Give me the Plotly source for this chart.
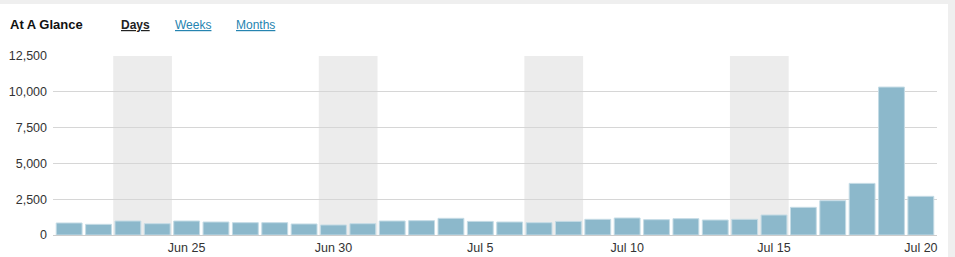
import plotly.graph_objects as go
import datetime as dt

# ---- data ----
dates = [(dt.date(2012, 6, 21) + dt.timedelta(days=i)) for i in range(30)]
day_labels = [d.strftime("%b %-d") for d in dates]
views = [840, 745, 977, 790, 977, 907, 860, 860, 770, 700,
         790, 977, 1000, 1165, 950, 907, 860, 950, 1095, 1187,
         1070, 1140, 1047, 1095, 1396, 1933, 2395, 3605, 10330, 2700]
weekend_starts = ["Jun 23", "Jun 30", "Jul 7", "Jul 14"]
tick_labels = ["Jun 25", "Jun 30", "Jul 5", "Jul 10", "Jul 15", "Jul 20"]
y_ticks = [0, 2500, 5000, 7500, 10000, 12500]

idx = list(range(len(views)))
FONT = "Liberation Sans, Arial, Helvetica, sans-serif"

fig = go.Figure()
fig.add_trace(go.Bar(
    x=idx, y=views,
    marker=dict(color="#8cb8cb", line=dict(color="#c4dbe5", width=1)),
    hoverinfo="y",
))

shapes = []
# outer white panel
shapes.append(dict(type="rect", xref="paper", yref="paper",
                   x0=-0.06, x1=1.0124, y0=-0.13, y1=1.2905,
                   fillcolor="white", line=dict(width=0), layer="below"))
for w in weekend_starts:
    i = day_labels.index(w)
    shapes.append(dict(type="rect", xref="x", yref="paper",
                       x0=i - 0.5, x1=i + 1.5, y0=0, y1=1,
                       fillcolor="#ececec", line=dict(width=0), layer="below"))

tick_vals = [day_labels.index(t) for t in tick_labels]

TY = 1.175
fig.update_layout(
    width=955, height=257,
    margin=dict(l=53, r=18, t=56, b=22),
    paper_bgcolor="#efefef",
    plot_bgcolor="rgba(0,0,0,0)",
    bargap=0.12,
    showlegend=False,
    shapes=shapes,
    font=dict(family=FONT, size=12, color="#333"),
    xaxis=dict(range=[-0.55, len(views) - 0.45], tickvals=tick_vals, ticktext=tick_labels,
               showgrid=False, zeroline=False, showline=False, automargin=False,
               ticks="", ticklabelstandoff=3, tickfont=dict(size=12.5, color="#333"),
               fixedrange=True),
    yaxis=dict(range=[0, 12500], tickvals=y_ticks, tickformat=",d", automargin=False,
               showgrid=True, gridcolor="#d6d6d6", gridwidth=1,
               zeroline=True, zerolinecolor="#cccccc", zerolinewidth=1,
               showline=False, ticks="", ticklabelstandoff=5,
               tickfont=dict(size=12.5, color="#333"), fixedrange=True),
    annotations=[
        dict(text="<b>At A Glance</b>", xref="paper", yref="paper", x=-0.051, y=TY,
             xanchor="left", yanchor="middle", showarrow=False,
             font=dict(size=13, color="#111", family=FONT)),
        dict(text="<b><u>Days</u></b>", xref="paper", yref="paper", x=0.0746, y=TY,
             xanchor="left", yanchor="middle", showarrow=False,
             font=dict(size=12, color="#222", family=FONT)),
        dict(text="<u>Weeks</u>", xref="paper", yref="paper", x=0.1357, y=TY,
             xanchor="left", yanchor="middle", showarrow=False,
             font=dict(size=12, color="#2584b0", family=FONT)),
        dict(text="<u>Months</u>", xref="paper", yref="paper", x=0.2047, y=TY,
             xanchor="left", yanchor="middle", showarrow=False,
             font=dict(size=12, color="#2584b0", family=FONT)),
    ],
)

fig.write_html("out.html")
